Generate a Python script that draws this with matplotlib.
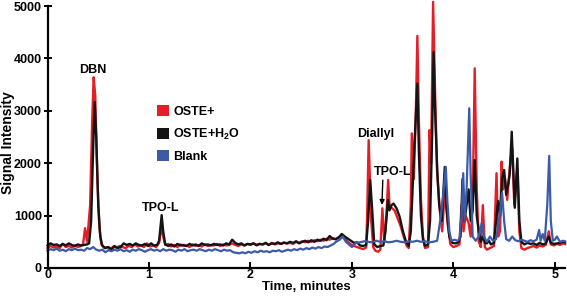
import matplotlib
matplotlib.use('Agg')
import matplotlib.pyplot as plt
from matplotlib.patches import Patch

plt.rcParams['font.family'] = ['Liberation Sans', 'DejaVu Sans']
plt.rcParams['font.weight'] = 'bold'
plt.rcParams['mathtext.fontset'] = 'custom'
plt.rcParams['mathtext.bf'] = 'Liberation Sans:bold'
plt.rcParams['mathtext.rm'] = 'Liberation Sans:bold'

# retention time (min) / signal
red_t = [0.00, 0.03, 0.06, 0.09, 0.12, 0.15, 0.18, 0.21, 0.24, 0.27, 0.30, 0.33, 0.35, 0.37, 0.39,
         0.42, 0.44, 0.455, 0.47, 0.49, 0.51, 0.53, 0.56, 0.59, 0.62, 0.65, 0.68, 0.71, 0.74, 0.77,
         0.80, 0.83, 0.86, 0.89, 0.92, 0.95, 0.98, 1.01, 1.04, 1.07, 1.10, 1.125, 1.14, 1.16, 1.19,
         1.22, 1.25, 1.28, 1.31, 1.34, 1.37, 1.40, 1.43, 1.46, 1.49, 1.52, 1.55, 1.58, 1.61, 1.64,
         1.67, 1.70, 1.73, 1.76, 1.79, 1.82, 1.85, 1.88, 1.91, 1.94, 1.97, 2.00, 2.03, 2.06, 2.09,
         2.12, 2.15, 2.18, 2.21, 2.24, 2.27, 2.30, 2.33, 2.36, 2.39, 2.42, 2.45, 2.48, 2.51, 2.54,
         2.57, 2.60, 2.63, 2.66, 2.69, 2.72, 2.75, 2.78, 2.81, 2.84, 2.87, 2.90, 2.93, 2.96, 2.99,
         3.02, 3.05, 3.08, 3.11, 3.14, 3.15, 3.165, 3.19, 3.21, 3.23, 3.26, 3.28, 3.30, 3.32, 3.34,
         3.357, 3.37, 3.39, 3.42, 3.45, 3.48, 3.51, 3.54, 3.56, 3.58, 3.59, 3.61, 3.63, 3.645, 3.66,
         3.68, 3.70, 3.72, 3.75, 3.765, 3.78, 3.80, 3.82, 3.84, 3.87, 3.89, 3.92, 3.94, 3.97, 4.00,
         4.03, 4.06, 4.08, 4.10, 4.12, 4.15, 4.17, 4.19, 4.21, 4.23, 4.25, 4.27, 4.29, 4.31, 4.33,
         4.36, 4.40, 4.425, 4.44, 4.46, 4.475, 4.49, 4.51, 4.53, 4.56, 4.58, 4.60, 4.63, 4.65, 4.67,
         4.70, 4.73, 4.76, 4.79, 4.82, 4.85, 4.88, 4.91, 4.94, 4.96, 4.99, 5.02, 5.05, 5.08, 5.10]
red_v = [380, 420, 390, 410, 380, 460, 400, 420, 390, 430, 400, 420, 450, 760, 500,
         1200, 2800, 3640, 3300, 1800, 800, 450, 380, 400, 370, 410, 390, 420, 400, 380,
         420, 400, 450, 410, 430, 400, 470, 410, 430, 400, 480, 800, 600, 440, 460,
         410, 440, 400, 450, 420, 430, 400, 450, 420, 440, 410, 450, 420, 440, 430,
         460, 420, 450, 430, 440, 470, 440, 420, 450, 430, 460, 440, 470, 430, 460,
         450, 470, 440, 480, 450, 470, 460, 490, 470, 480, 460, 500, 480, 510, 490,
         520, 500, 530, 510, 540, 520, 560, 540, 570, 550, 590, 620, 560, 500, 450,
         420, 400, 380, 360, 390, 1000, 2440, 900, 400, 330, 310, 350, 1140, 500, 1000,
         1680, 1200, 1150, 1100, 950, 800, 600, 420, 380, 1200, 2570, 1700, 3000, 4430, 2800,
         1300, 600, 380, 400, 2630, 2000, 5080, 3300, 1800, 1000, 700, 1650, 900, 450, 400,
         420, 450, 1200, 700, 1000, 860, 600, 1200, 3810, 1500, 500, 400, 1200, 400, 350,
         380, 420, 1810, 600, 700, 2030, 1500, 1700, 1300, 2000, 2280, 1200, 1900, 700, 380,
         350, 380, 400, 420, 390, 430, 410, 440, 700, 450, 430, 460, 440, 470, 460]

black_t = [0.00, 0.03, 0.06, 0.09, 0.12, 0.15, 0.18, 0.21, 0.24, 0.27, 0.30, 0.33, 0.36, 0.39, 0.41,
           0.43, 0.45, 0.465, 0.48, 0.50, 0.52, 0.54, 0.57, 0.60, 0.63, 0.66, 0.69, 0.72, 0.75, 0.78,
           0.81, 0.84, 0.87, 0.90, 0.93, 0.96, 0.99, 1.02, 1.05, 1.08, 1.10, 1.125, 1.14, 1.16, 1.19,
           1.22, 1.25, 1.28, 1.31, 1.34, 1.37, 1.40, 1.43, 1.46, 1.49, 1.52, 1.55, 1.58, 1.61, 1.64,
           1.67, 1.70, 1.73, 1.76, 1.79, 1.82, 1.85, 1.88, 1.91, 1.94, 1.97, 2.00, 2.03, 2.06, 2.09,
           2.12, 2.15, 2.18, 2.21, 2.24, 2.27, 2.30, 2.33, 2.36, 2.39, 2.42, 2.45, 2.48, 2.51, 2.54,
           2.57, 2.60, 2.63, 2.66, 2.69, 2.72, 2.75, 2.78, 2.81, 2.84, 2.87, 2.90, 2.93, 2.96, 2.99,
           3.02, 3.05, 3.08, 3.11, 3.14, 3.16, 3.18, 3.20, 3.22, 3.25, 3.28, 3.31, 3.33, 3.355, 3.37,
           3.39, 3.41, 3.44, 3.47, 3.50, 3.53, 3.56, 3.58, 3.60, 3.62, 3.645, 3.66, 3.68, 3.70, 3.72,
           3.75, 3.77, 3.79, 3.805, 3.82, 3.84, 3.86, 3.885, 3.915, 3.93, 3.96, 3.99, 4.02, 4.05, 4.07,
           4.09, 4.11, 4.13, 4.15, 4.17, 4.19, 4.21, 4.23, 4.25, 4.27, 4.29, 4.31, 4.33, 4.35, 4.37,
           4.40, 4.42, 4.44, 4.46, 4.48, 4.50, 4.52, 4.54, 4.555, 4.575, 4.59, 4.605, 4.63, 4.65, 4.67,
           4.70, 4.73, 4.76, 4.79, 4.82, 4.85, 4.88, 4.91, 4.94, 4.96, 4.99, 5.02, 5.05, 5.08, 5.10]
black_v = [430, 470, 440, 450, 420, 460, 430, 470, 440, 420, 450, 430, 440, 450, 470,
           900, 2300, 3170, 2500, 1200, 600, 430, 380, 400, 350, 420, 380, 400, 470, 440,
           460, 430, 470, 440, 430, 460, 420, 470, 430, 440, 520, 1010, 700, 450, 420,
           450, 410, 460, 430, 440, 420, 460, 430, 450, 420, 470, 440, 450, 430, 460,
           440, 450, 430, 470, 450, 540, 480, 450, 470, 430, 460, 450, 470, 440, 460,
           450, 480, 440, 470, 460, 490, 460, 480, 470, 500, 480, 510, 470, 500, 520,
           490, 530, 500, 540, 520, 560, 530, 610, 560, 550, 580, 650, 600, 560, 520,
           480, 490, 430, 420, 440, 900, 1680, 1100, 450, 400, 420, 430, 700, 1300, 1100,
           1200, 1230, 1140, 980, 720, 520, 420, 700, 1600, 2500, 3520, 2200, 1000, 550, 420,
           450, 900, 2500, 4120, 3000, 1900, 1200, 900, 1930, 1170, 600, 480, 470, 490, 600,
           1700, 900, 1200, 1500, 900, 1100, 2060, 1000, 700, 500, 600, 480, 470, 520, 450,
           480, 900, 1280, 1000, 1700, 1870, 1400, 1600, 1800, 2600, 1900, 1150, 2090, 900, 500,
           450, 480, 460, 470, 440, 480, 450, 470, 600, 480, 460, 470, 480, 500, 490]

blue_t = [0.00, 0.03, 0.06, 0.09, 0.12, 0.15, 0.18, 0.21, 0.24, 0.27, 0.30, 0.33, 0.36, 0.39, 0.42,
          0.45, 0.48, 0.51, 0.54, 0.57, 0.60, 0.63, 0.66, 0.69, 0.72, 0.75, 0.78, 0.81, 0.84, 0.87,
          0.90, 0.93, 0.96, 0.99, 1.02, 1.05, 1.08, 1.11, 1.14, 1.17, 1.20, 1.23, 1.26, 1.29, 1.32,
          1.35, 1.38, 1.41, 1.44, 1.47, 1.50, 1.53, 1.56, 1.59, 1.62, 1.65, 1.68, 1.71, 1.74, 1.77,
          1.80, 1.83, 1.86, 1.89, 1.92, 1.95, 1.98, 2.01, 2.04, 2.07, 2.10, 2.13, 2.16, 2.19, 2.22,
          2.25, 2.28, 2.31, 2.34, 2.37, 2.40, 2.43, 2.46, 2.49, 2.52, 2.55, 2.58, 2.61, 2.64, 2.67,
          2.70, 2.73, 2.76, 2.79, 2.82, 2.85, 2.88, 2.91, 2.94, 2.97, 3.00, 3.04, 3.08, 3.12, 3.16,
          3.20, 3.24, 3.28, 3.32, 3.36, 3.40, 3.44, 3.48, 3.52, 3.56, 3.60, 3.64, 3.68, 3.72, 3.76,
          3.80, 3.84, 3.87, 3.90, 3.925, 3.94, 3.96, 3.98, 4.01, 4.04, 4.06, 4.08, 4.097, 4.11, 4.13,
          4.156, 4.17, 4.19, 4.22, 4.25, 4.28, 4.30, 4.33, 4.36, 4.39, 4.42, 4.45, 4.48, 4.50, 4.52,
          4.55, 4.58, 4.61, 4.64, 4.67, 4.70, 4.73, 4.76, 4.79, 4.82, 4.845, 4.86, 4.88, 4.90, 4.925,
          4.944, 4.96, 4.98, 5.00, 5.02, 5.05, 5.08, 5.10]
blue_v = [330, 360, 340, 370, 330, 350, 320, 360, 340, 370, 340, 350, 330, 380, 360,
          400, 350, 330, 350, 300, 340, 320, 350, 330, 360, 320, 340, 310, 350, 330,
          360, 340, 310, 340, 360, 330, 350, 320, 360, 330, 350, 340, 310, 350, 330,
          360, 320, 340, 350, 330, 360, 340, 320, 350, 330, 360, 340, 320, 350, 330,
          340, 300, 290, 280, 300, 280, 310, 290, 320, 300, 330, 310, 320, 300, 330,
          320, 340, 310, 330, 350, 330, 360, 340, 370, 350, 380, 360, 390, 370, 400,
          380, 410, 400, 430, 460, 510, 540, 600, 500, 450, 400, 480, 490, 510, 500,
          490, 520, 500, 510, 490, 500, 520, 500, 490, 510, 500, 520, 500, 510, 490,
          500, 520, 900, 1400, 1930, 1300, 700, 520, 540, 520, 550, 1000, 1810, 900, 1500,
          3050, 1800, 600, 520, 600, 860, 600, 500, 600, 520, 550, 900, 1430, 900, 550,
          520, 600, 530, 510, 540, 520, 500, 530, 510, 540, 725, 520, 650, 520, 1200,
          2140, 900, 520, 540, 600, 500, 520, 510]

labels = ['OSTE+', r'OSTE+H$_\mathbf{2}$O', 'Blank']
colors = ['#e41e26', '#141414', '#3b5ba9']

fig = plt.figure(figsize=(5.67, 2.96), dpi=100)
ax = fig.add_axes([0.0838, 0.0946, 0.9127, 0.885])

ax.plot(red_t, red_v, color=colors[0], lw=1.7, clip_on=False)
ax.plot(black_t, black_v, color=colors[1], lw=1.7, clip_on=False)
ax.plot(blue_t, blue_v, color=colors[2], lw=1.6, clip_on=False)

ax.set_xlim(0, 5.1)
ax.set_ylim(0, 5000)
ax.set_xticks([0, 1, 2, 3, 4, 5])
ax.set_yticks([0, 1000, 2000, 3000, 4000, 5000])
ax.spines['top'].set_visible(False)
ax.spines['right'].set_visible(False)
ax.spines['left'].set_linewidth(1.6)
ax.spines['bottom'].set_linewidth(1.6)
ax.tick_params(axis='x', direction='in', length=4, width=1.4, labelsize=9, pad=1)
ax.tick_params(axis='y', direction='inout', length=6, width=1.4, labelsize=9, pad=1)

ax.set_xlabel('Time, minutes', fontsize=9.5, fontweight='bold', labelpad=0)
fig.text(8 / 567, 1 - 143 / 296, 'Signal Intensity', fontsize=10, fontweight='bold',
         rotation=90, ha='center', va='center')

# peak labels
ax.text(0.45, 3780, 'DBN', fontsize=9, fontweight='bold', ha='center', va='center')
ax.text(1.11, 1145, 'TPO-L', fontsize=9, fontweight='bold', ha='center', va='center')
ax.text(3.23, 2560, 'Diallyl', fontsize=9, fontweight='bold', ha='center', va='center')
ax.text(3.40, 1830, 'TPO-L', fontsize=9, fontweight='bold', ha='center', va='center')
ax.annotate('', xy=(3.295, 1150), xytext=(3.305, 1730),
            arrowprops=dict(arrowstyle='-|>', color='black', lw=1.0, mutation_scale=7))

handles = [Patch(facecolor=c, edgecolor='none') for c in colors]
ax.legend(handles, labels, loc='upper left', bbox_to_anchor=(157 / 567, 1 - 105 / 296),
          bbox_transform=fig.transFigure, frameon=False, borderpad=0, borderaxespad=0,
          handlelength=0.95, handleheight=0.95, handletextpad=0.35, labelspacing=0.7,
          prop={'size': 9, 'weight': 'bold'})

fig.savefig('out.png', dpi=100)
